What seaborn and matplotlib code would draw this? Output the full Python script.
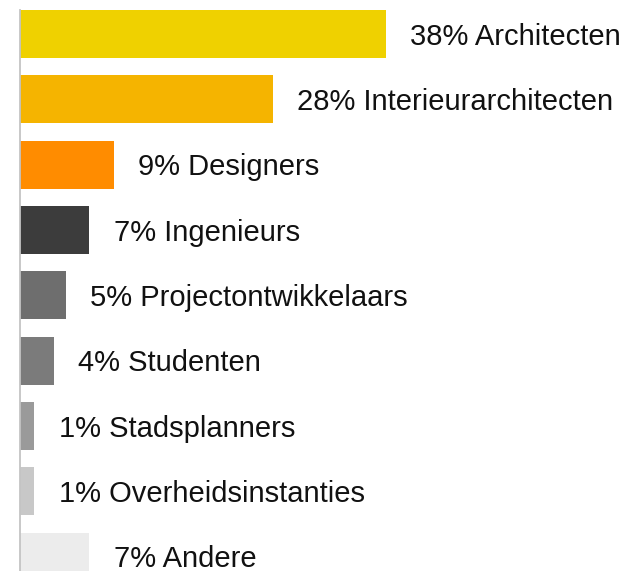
import matplotlib
matplotlib.use("Agg")
import matplotlib.pyplot as plt
import seaborn as sns
import pandas as pd

# bar lengths (in % units), plus the printed labels
groups = ["Architecten", "Interieurarchitecten", "Designers", "Ingenieurs",
          "Projectontwikkelaars", "Studenten", "Stadsplanners",
          "Overheidsinstanties", "Andere"]
bar_len = [38, 26.3, 9.8, 7.25, 4.8, 3.6, 1.55, 1.55, 7.25]
pct_text = ["38%", "28%", "9%", "7%", "5%", "4%", "1%", "1%", "7%"]
colors = ["#EFD100", "#F5B400", "#FF8C00", "#3C3C3C", "#6E6E6E",
          "#7B7B7B", "#9A9A9A", "#C8C8C8", "#ECECEC"]

df = pd.DataFrame({"groep": groups, "waarde": bar_len})

sns.set_style("white")
plt.rcParams["font.family"] = ["Liberation Sans", "DejaVu Sans"]

fig = plt.figure(figsize=(6.27, 5.71), dpi=100)
ax = fig.add_axes([19.5 / 627, 0, (627 - 19.5) / 627, (571 - 10) / 571])

sns.barplot(data=df, x="waarde", y="groep", hue="groep", palette=colors,
            orient="h", width=0.735, legend=False, ax=ax, saturation=1,
            linewidth=0)

for i, (v, p, g) in enumerate(zip(bar_len, pct_text, groups)):
    ax.text(v + 2.5, i + 0.04, f"{p} {g}", va="center", ha="left",
            fontsize=21, color="#111111")

ax.set_xlim(0, 607.5 / 9.65)
ax.set_ylim(8.22, -0.3675)
ax.set_xlabel("")
ax.set_ylabel("")
ax.set_xticks([])
ax.set_yticks([])
for s in ["top", "right", "bottom"]:
    ax.spines[s].set_visible(False)
ax.spines["left"].set_color("#C4C4C4")
ax.spines["left"].set_linewidth(1.3)

fig.savefig("out.png", dpi=100)
